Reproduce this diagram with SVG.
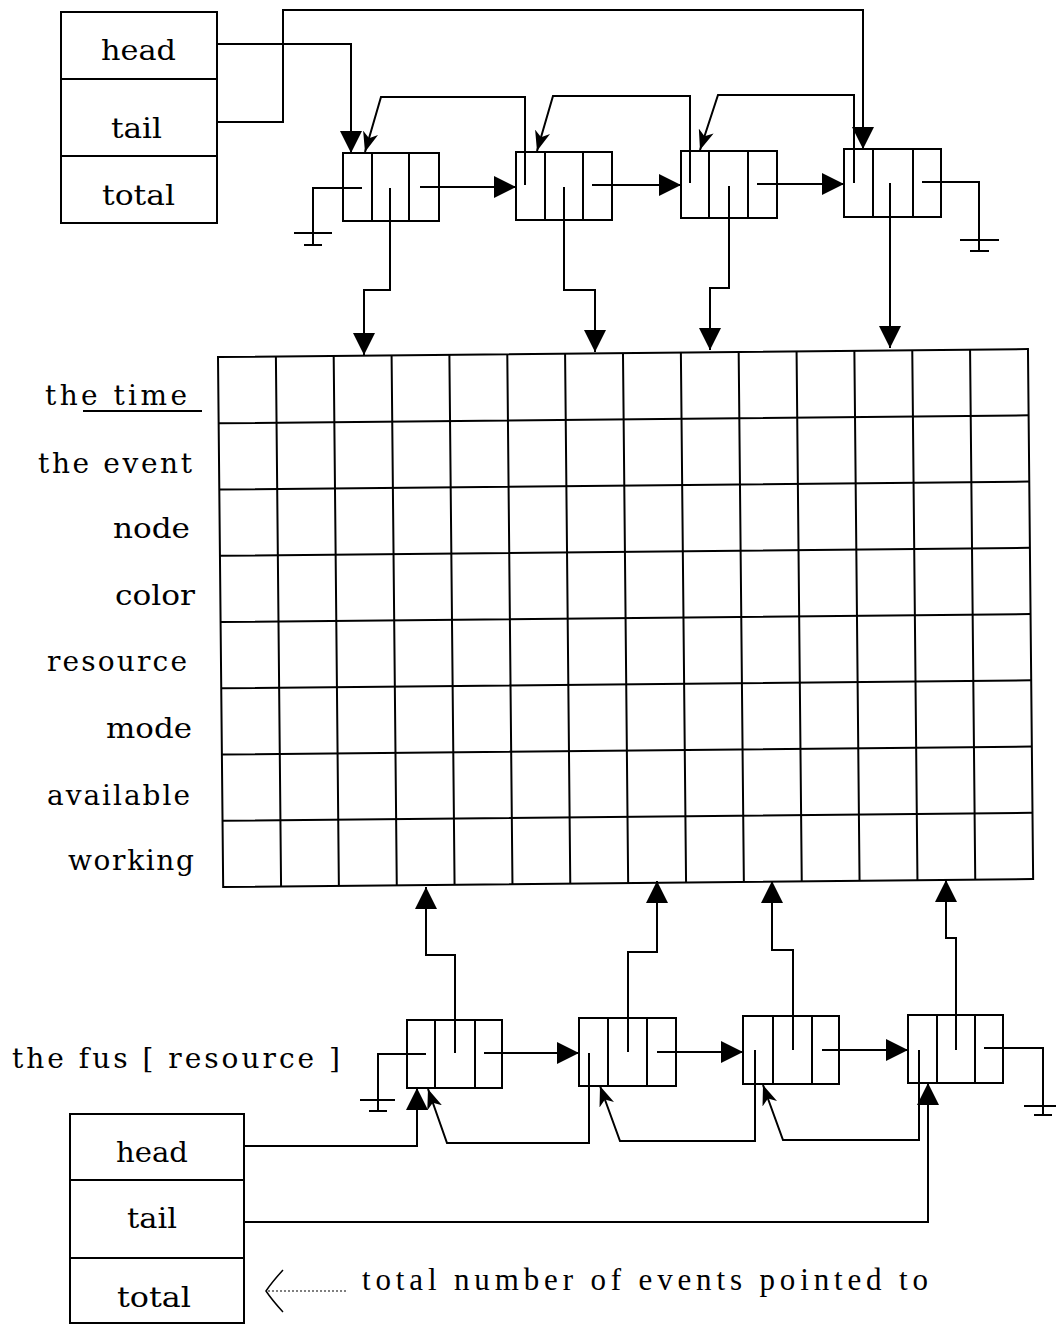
<svg xmlns="http://www.w3.org/2000/svg" width="1056" height="1325" viewBox="0 0 1056 1325">
<style>
.bx{fill:none;stroke:#000;stroke-width:2}
.ln{fill:none;stroke:#000;stroke-width:2}
.c{fill:none;stroke:#000;stroke-width:2;stroke-linejoin:miter}
.t{font-family:"DejaVu Serif","Liberation Serif",serif;font-size:28px;fill:#000}
.s{font-family:"Liberation Serif","DejaVu Serif",serif;font-size:31px;fill:#000}
</style>
<defs>
<marker id="a" markerUnits="userSpaceOnUse" markerWidth="22" markerHeight="22" refX="20" refY="10" orient="auto" viewBox="0 0 20 20">
<path d="M0,0 L20,10 L0,20 z" fill="#000"/>
</marker>
<marker id="p" markerUnits="userSpaceOnUse" markerWidth="20" markerHeight="16" refX="18" refY="7" orient="auto" viewBox="0 0 18 14">
<path d="M0,0 L18,7 L0,14 L5,7 z" fill="#000"/>
</marker>
</defs>
<rect width="1056" height="1325" fill="#fff"/>

<g id="top-box">
<rect class="bx" x="61" y="12" width="156" height="211"/>
<line class="ln" x1="61" y1="79" x2="217" y2="79"/>
<line class="ln" x1="61" y1="156" x2="217" y2="156"/>
<text class="t" x="101" y="60" textLength="75" lengthAdjust="spacingAndGlyphs">head</text>
<text class="t" x="111" y="138" textLength="51" lengthAdjust="spacingAndGlyphs">tail</text>
<text class="t" x="102" y="205" textLength="73" lengthAdjust="spacingAndGlyphs">total</text>
</g>

<g id="top-node1"><rect class="bx" x="343" y="153" width="96" height="68"/><line class="ln" x1="372" y1="153" x2="372" y2="221"/><line class="ln" x1="409" y1="153" x2="409" y2="221"/></g>
<g id="top-node2"><rect class="bx" x="516" y="152" width="96" height="68"/><line class="ln" x1="545" y1="152" x2="545" y2="220"/><line class="ln" x1="583" y1="152" x2="583" y2="220"/></g>
<g id="top-node3"><rect class="bx" x="681" y="151" width="96" height="67"/><line class="ln" x1="709" y1="151" x2="709" y2="218"/><line class="ln" x1="748" y1="151" x2="748" y2="218"/></g>
<g id="top-node4"><rect class="bx" x="844" y="149" width="97" height="68"/><line class="ln" x1="873" y1="149" x2="873" y2="217"/><line class="ln" x1="913" y1="149" x2="913" y2="217"/></g>

<g id="grid" transform="rotate(-0.56 218 357)">
<rect class="bx" x="218" y="357" width="810" height="530"/>
<path class="ln" d="M275.9,357V887M333.7,357V887M391.6,357V887M449.4,357V887M507.3,357V887M565.1,357V887M623,357V887M680.9,357V887M738.7,357V887M796.6,357V887M854.4,357V887M912.3,357V887M970.1,357V887"/>
<path class="ln" d="M218,423.25H1028M218,489.5H1028M218,555.75H1028M218,622H1028M218,688.25H1028M218,754.5H1028M218,820.75H1028"/>
</g>

<g id="row-labels">
<text class="t" x="45" y="405" textLength="142" lengthAdjust="spacing">the time</text>
<line x1="83" y1="411" x2="202" y2="411" stroke="#000" stroke-width="2"/>
<text class="t" x="38" y="473" textLength="154" lengthAdjust="spacing">the event</text>
<text class="t" x="113" y="538" textLength="77" lengthAdjust="spacingAndGlyphs">node</text>
<text class="t" x="115" y="605" textLength="80" lengthAdjust="spacingAndGlyphs">color</text>
<text class="t" x="47" y="671" textLength="140" lengthAdjust="spacing">resource</text>
<text class="t" x="106" y="738" textLength="86" lengthAdjust="spacingAndGlyphs">mode</text>
<text class="t" x="47" y="805" textLength="143" lengthAdjust="spacing">available</text>
<text class="t" x="68" y="870" textLength="126" lengthAdjust="spacing">working</text>
</g>

<g id="fus-label">
<text class="t" x="12" y="1068" textLength="328" lengthAdjust="spacing">the fus [ resource ]</text>
</g>

<g id="bottom-node1"><rect class="bx" x="407" y="1020" width="95" height="68"/><line class="ln" x1="435" y1="1020" x2="435" y2="1088"/><line class="ln" x1="475" y1="1020" x2="475" y2="1088"/></g>
<g id="bottom-node2"><rect class="bx" x="579" y="1018" width="97" height="68"/><line class="ln" x1="608" y1="1018" x2="608" y2="1086"/><line class="ln" x1="647" y1="1018" x2="647" y2="1086"/></g>
<g id="bottom-node3"><rect class="bx" x="743" y="1016" width="96" height="68"/><line class="ln" x1="773" y1="1016" x2="773" y2="1084"/><line class="ln" x1="812" y1="1016" x2="812" y2="1084"/></g>
<g id="bottom-node4"><rect class="bx" x="908" y="1015" width="95" height="68"/><line class="ln" x1="937" y1="1015" x2="937" y2="1083"/><line class="ln" x1="975" y1="1015" x2="975" y2="1083"/></g>

<g id="bottom-box">
<rect class="bx" x="70" y="1114" width="174" height="209"/>
<line class="ln" x1="70" y1="1180" x2="244" y2="1180"/>
<line class="ln" x1="70" y1="1258" x2="244" y2="1258"/>
<text class="t" x="116" y="1162" textLength="72" lengthAdjust="spacingAndGlyphs">head</text>
<text class="t" x="127" y="1228" textLength="50" lengthAdjust="spacingAndGlyphs">tail</text>
<text class="t" x="117" y="1307" textLength="74" lengthAdjust="spacingAndGlyphs">total</text>
</g>

<g id="note">
<path d="M283,1270 Q272,1282 266,1291 Q272,1300 283,1312" fill="none" stroke="#000" stroke-width="1.5"/>
<line x1="268" y1="1291" x2="348" y2="1291" stroke="#000" stroke-width="1.2" stroke-dasharray="2,2"/>
<text class="s" x="362" y="1290" textLength="566" lengthAdjust="spacing">total number of events pointed to</text>
</g>

<g id="connectors">
<path class="c" d="M217,44H351V153" marker-end="url(#a)"/>
<path class="c" d="M217,122H283V10H863V149" marker-end="url(#a)"/>
<path class="c" d="M420,187H516" marker-end="url(#a)"/>
<path class="c" d="M592,185H681" marker-end="url(#a)"/>
<path class="c" d="M757,184H844" marker-end="url(#a)"/>
<path class="c" d="M922,182H979V251"/>
<path class="c" d="M960,240H999M970,251H989"/>
<path class="c" d="M362,188H313V245"/>
<path class="c" d="M294,233H332M304,245H322"/>
<path class="c" d="M525,185V97H381L365,152" marker-end="url(#p)"/>
<path class="c" d="M690,183V96H553L537,151" marker-end="url(#p)"/>
<path class="c" d="M854,183V95H718L700,150" marker-end="url(#p)"/>
<path class="c" d="M390,188V290H364V355" marker-end="url(#a)"/>
<path class="c" d="M564,187V290H595V352" marker-end="url(#a)"/>
<path class="c" d="M729,186V288H710V350" marker-end="url(#a)"/>
<path class="c" d="M890,183V348" marker-end="url(#a)"/>
<path class="c" d="M455,1053V955H426V887" marker-end="url(#a)"/>
<path class="c" d="M628,1052V952H657V881" marker-end="url(#a)"/>
<path class="c" d="M793,1050V950H772V881" marker-end="url(#a)"/>
<path class="c" d="M956,1050V938H946V880" marker-end="url(#a)"/>
<path class="c" d="M484,1053H579" marker-end="url(#a)"/>
<path class="c" d="M657,1052H743" marker-end="url(#a)"/>
<path class="c" d="M822,1050H908" marker-end="url(#a)"/>
<path class="c" d="M984,1048H1043V1115"/>
<path class="c" d="M1024,1106H1056M1034,1115H1052"/>
<path class="c" d="M426,1054H378V1111"/>
<path class="c" d="M360,1100H395M369,1111H387"/>
<path class="c" d="M589,1053V1143H447L428,1089" marker-end="url(#p)"/>
<path class="c" d="M755,1050V1141H620L600,1086" marker-end="url(#p)"/>
<path class="c" d="M919,1050V1140H783L763,1085" marker-end="url(#p)"/>
<path class="c" d="M244,1146H417V1088" marker-end="url(#a)"/>
<path class="c" d="M243,1222H928V1083" marker-end="url(#a)"/>
</g>
</svg>
